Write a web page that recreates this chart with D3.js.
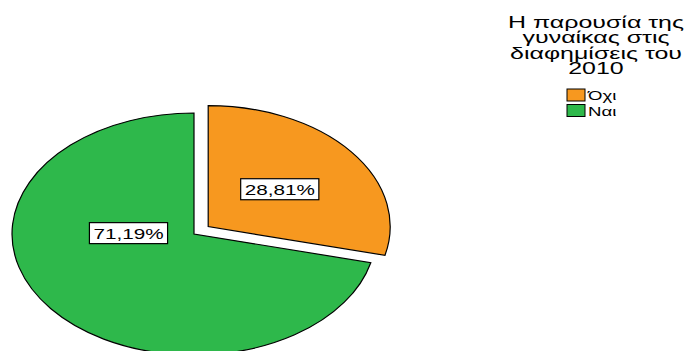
<!DOCTYPE html>
<html>
<head>
<meta charset="utf-8">
<script src="https://cdn.jsdelivr.net/npm/d3@7/dist/d3.min.js"></script>
<style>
  html, body { margin: 0; padding: 0; background: #fff; }
  svg { display: block; }
  text { font-family: "Liberation Sans", Arial, sans-serif; fill: #000; }
</style>
</head>
<body>
<svg id="chart" width="685" height="351"></svg>
<script>
// Categories and their shares (%)
const categories = ["Όχι", "Ναι"];
const shares = [28.81, 71.19];
const colors = ["#f7981f", "#2eb84b"];
const titleLines = ["Η παρουσία της", "γυναίκας στις", "διαφημίσεις του", "2010"];

const svg = d3.select("#chart");
const fmt = v => d3.format(".2f")(v).replace(".", ",") + "%";

// Pie geometry: a circle of radius r, stretched horizontally into an ellipse
const cx = 194, cy = 234, r = 121, sx = 1.504;
const explode = 12;
const textStretch = 1.38;
const titleStretch = 1.56;

const pie = d3.pie().sort(null).value(d => d.value).startAngle(0).endAngle(2 * Math.PI);
const arcs = pie(categories.map((c, i) => ({ name: c, value: shares[i], color: colors[i] })));
const arc = d3.arc().innerRadius(0).outerRadius(r);

const mid = d => (d.startAngle + d.endAngle) / 2;
const polar = (a, rad) => [Math.sin(a) * rad, -Math.cos(a) * rad];

const pieG = svg.append("g").attr("transform", `translate(${cx},${cy}) scale(${sx},1)`);
pieG.selectAll("path.slice")
  .data(arcs)
  .join("path")
  .attr("class", "slice")
  .attr("transform", d => {
    const [ox, oy] = d.index === 0 ? polar(mid(d), explode) : [0, 0];
    return `translate(${ox},${oy})`;
  })
  .attr("d", arc)
  .attr("fill", d => d.data.color)
  .attr("stroke", "#000")
  .attr("stroke-width", 1.2)
  .attr("vector-effect", "non-scaling-stroke");

// Value labels in white boxes
function labelPoint(d) {
  if (d.index === 0) {
    const [ox, oy] = polar(mid(d), explode);
    const [lx, ly] = polar(mid(d), r * 0.5);
    return [cx + (ox + lx) * sx, cy + oy + ly];
  }
  const [lx, ly] = polar(-Math.PI / 2 + 0.02, r * 0.36);
  return [cx + lx * sx, cy + ly];
}

arcs.forEach(d => {
  const [x, y] = labelPoint(d);
  const g = svg.append("g").attr("transform", `translate(${x},${y})`);
  const rect = g.append("rect").attr("fill", "#fff").attr("stroke", "#000").attr("stroke-width", 1.2);
  const t = g.append("text")
    .attr("text-anchor", "middle")
    .attr("dy", "0.36em")
    .attr("font-size", 15)
    .attr("transform", `scale(${textStretch},1)`)
    .text(fmt(d.data.value));
  const w = t.node().getComputedTextLength() * textStretch + 8;
  const h = 21;
  rect.attr("x", -w / 2).attr("y", -h / 2).attr("width", w).attr("height", h);
});

// Legend title
const tg = svg.append("g").attr("transform", "translate(596,0)");
titleLines.forEach((line, i) => {
  tg.append("text")
    .attr("transform", `translate(0,${28 + i * 15.3}) scale(${titleStretch},1)`)
    .attr("text-anchor", "middle")
    .attr("font-size", 16)
    .text(line);
});

// Legend entries
const lg = svg.append("g").attr("transform", "translate(567,89)");
categories.forEach((c, i) => {
  const row = lg.append("g").attr("transform", `translate(0,${i * 15.5})`);
  row.append("rect")
    .attr("width", 18).attr("height", 12)
    .attr("fill", colors[i]).attr("stroke", "#000").attr("stroke-width", 1);
  row.append("text")
    .attr("transform", `translate(21,11) scale(${textStretch},1)`)
    .attr("font-size", 13.5)
    .text(c);
});
</script>
</body>
</html>
